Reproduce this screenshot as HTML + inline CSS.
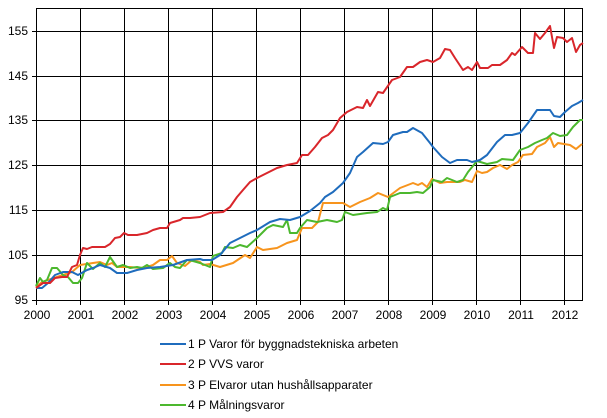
<!DOCTYPE html>
<html><head><meta charset="utf-8"><style>
html,body{margin:0;padding:0;background:#fff;}
svg{display:block;font-family:"Liberation Sans",Arial,sans-serif;}
</style></head><body>
<svg width="607" height="418" viewBox="0 0 607 418" xmlns="http://www.w3.org/2000/svg">
<g stroke="#000" stroke-width="1" fill="none" shape-rendering="crispEdges">
<rect x="36.5" y="8.5" width="546" height="292"/>
<line x1="32" y1="31.5" x2="583" y2="31.5"/>
<line x1="32" y1="76.5" x2="583" y2="76.5"/>
<line x1="32" y1="120.5" x2="583" y2="120.5"/>
<line x1="32" y1="165.5" x2="583" y2="165.5"/>
<line x1="32" y1="210.5" x2="583" y2="210.5"/>
<line x1="32" y1="255.5" x2="583" y2="255.5"/>
<line x1="32" y1="300.5" x2="583" y2="300.5"/>
<line x1="36.5" y1="8" x2="36.5" y2="305"/>
<line x1="80.5" y1="8" x2="80.5" y2="305"/>
<line x1="124.5" y1="8" x2="124.5" y2="305"/>
<line x1="168.5" y1="8" x2="168.5" y2="305"/>
<line x1="212.5" y1="8" x2="212.5" y2="305"/>
<line x1="256.5" y1="8" x2="256.5" y2="305"/>
<line x1="300.5" y1="8" x2="300.5" y2="305"/>
<line x1="344.5" y1="8" x2="344.5" y2="305"/>
<line x1="388.5" y1="8" x2="388.5" y2="305"/>
<line x1="432.5" y1="8" x2="432.5" y2="305"/>
<line x1="476.5" y1="8" x2="476.5" y2="305"/>
<line x1="520.5" y1="8" x2="520.5" y2="305"/>
<line x1="564.5" y1="8" x2="564.5" y2="305"/>
</g>
<g font-size="12" fill="#000" text-anchor="end">
<text x="28" y="35">155</text><text x="28" y="80">145</text><text x="28" y="124">135</text>
<text x="28" y="169">125</text><text x="28" y="214">115</text><text x="28" y="259">105</text><text x="28" y="304">95</text>
</g>
<g font-size="12" fill="#000" text-anchor="middle">
<text x="37" y="319">2000</text><text x="81" y="319">2001</text><text x="125" y="319">2002</text><text x="169" y="319">2003</text>
<text x="213" y="319">2004</text><text x="257" y="319">2005</text><text x="301" y="319">2006</text><text x="345" y="319">2007</text>
<text x="389" y="319">2008</text><text x="433" y="319">2009</text><text x="477" y="319">2010</text><text x="521" y="319">2011</text><text x="565" y="319">2012</text>
</g>
<g fill="none" stroke-width="2" stroke-linejoin="round">
<polyline stroke="#f7941d" points="36,287 42,282 48,280 63,275 72,272 80,265 93,263 100,262 107,265 112,263 117,267 130,267 140,268 147,267 153,265 160,260 167,260 172,256 177,263 185,266 192,260 200,262 203,265 210,264 220,267 233,263 245,255 250,258 257,247 263,250 277,248 287,243 297,240 302,228 312,228 318,222 323,203 333,203 343,203 350,207 360,202 370,198 378,193 388,197 400,188 413,183 418,185 422,183 427,187 432,179 440,183 447,182 460,182 465,180 472,182 477,171 482,173 487,172 493,168 500,165 507,169 512,165 518,162 523,155 532,154 537,147 545,143 550,137 554,147 558,143 570,145 576,149 582,144"/>
<polyline stroke="#4cb82e" points="36,286 40,278 43,282 47,280 52,268 57,268 63,275 68,277 73,283 78,283 82,278 87,263 93,269 100,263 105,267 110,257 117,267 123,265 130,268 137,267 142,268 147,265 153,269 163,268 170,263 175,267 180,268 187,260 193,261 200,263 210,267 213,256 222,253 225,247 233,248 240,245 247,247 257,238 267,228 273,225 283,227 287,220 290,233 297,233 300,228 307,220 317,222 327,220 337,222 342,220 345,212 353,215 367,213 377,212 383,208 387,210 390,197 400,193 410,193 417,192 423,193 430,187 433,180 442,182 447,178 457,182 463,180 468,172 477,161 487,164 497,162 502,159 513,160 520,150 528,147 535,143 542,140 547,138 553,133 560,136 567,135 573,127 580,120 583,120"/>
<polyline stroke="#1f6cbd" points="36,288 42,288 48,283 55,275 63,272 72,272 78,275 87,270 93,268 100,265 110,268 117,273 127,273 137,270 147,268 160,267 173,265 187,260 200,259 203,260 212,260 220,255 230,243 240,238 250,233 257,230 270,222 280,219 290,220 300,217 310,211 320,203 325,197 333,192 343,183 350,173 357,157 363,152 373,143 383,144 388,142 393,135 403,132 407,132 413,128 422,133 430,143 433,147 442,157 450,163 457,160 467,160 472,162 480,160 487,155 497,142 505,135 512,135 520,133 528,123 537,110 550,110 554,116 560,117 565,112 572,106 578,103 583,100"/>
<polyline stroke="#d9262b" points="36,288 43,283 50,283 55,278 62,277 67,277 72,267 77,265 80,255 83,248 87,249 92,247 105,247 110,244 115,238 120,237 124,233 128,235 137,235 147,233 153,230 160,228 167,228 170,223 180,220 183,218 190,218 200,217 210,213 223,212 230,207 237,197 243,190 250,182 257,178 267,173 277,168 287,165 297,163 302,155 308,155 315,147 322,138 328,135 333,130 340,118 347,112 357,107 363,108 367,100 370,106 378,92 383,93 392,80 400,77 407,67 413,67 420,62 427,60 433,62 440,58 445,49 450,50 455,58 463,70 468,67 472,70 477,62 480,68 488,68 492,65 500,65 507,60 512,53 515,55 522,47 528,53 533,53 535,33 540,39 545,33 550,26 554,48 557,37 563,38 567,42 572,38 576,52 580,45 583,43"/>
</g>
<g stroke-width="2">
<line x1="160" y1="344" x2="186" y2="344" stroke="#1f6cbd"/>
<line x1="160" y1="364" x2="186" y2="364" stroke="#d9262b"/>
<line x1="160" y1="385" x2="186" y2="385" stroke="#f7941d"/>
<line x1="160" y1="405" x2="186" y2="405" stroke="#4cb82e"/>
</g>
<g font-size="12" fill="#000">
<text x="188" y="348">1 P Varor för byggnadstekniska arbeten</text>
<text x="188" y="368">2 P VVS varor</text>
<text x="188" y="389">3 P Elvaror utan hushållsapparater</text>
<text x="188" y="409">4 P Målningsvaror</text>
</g>
</svg>
</body></html>
